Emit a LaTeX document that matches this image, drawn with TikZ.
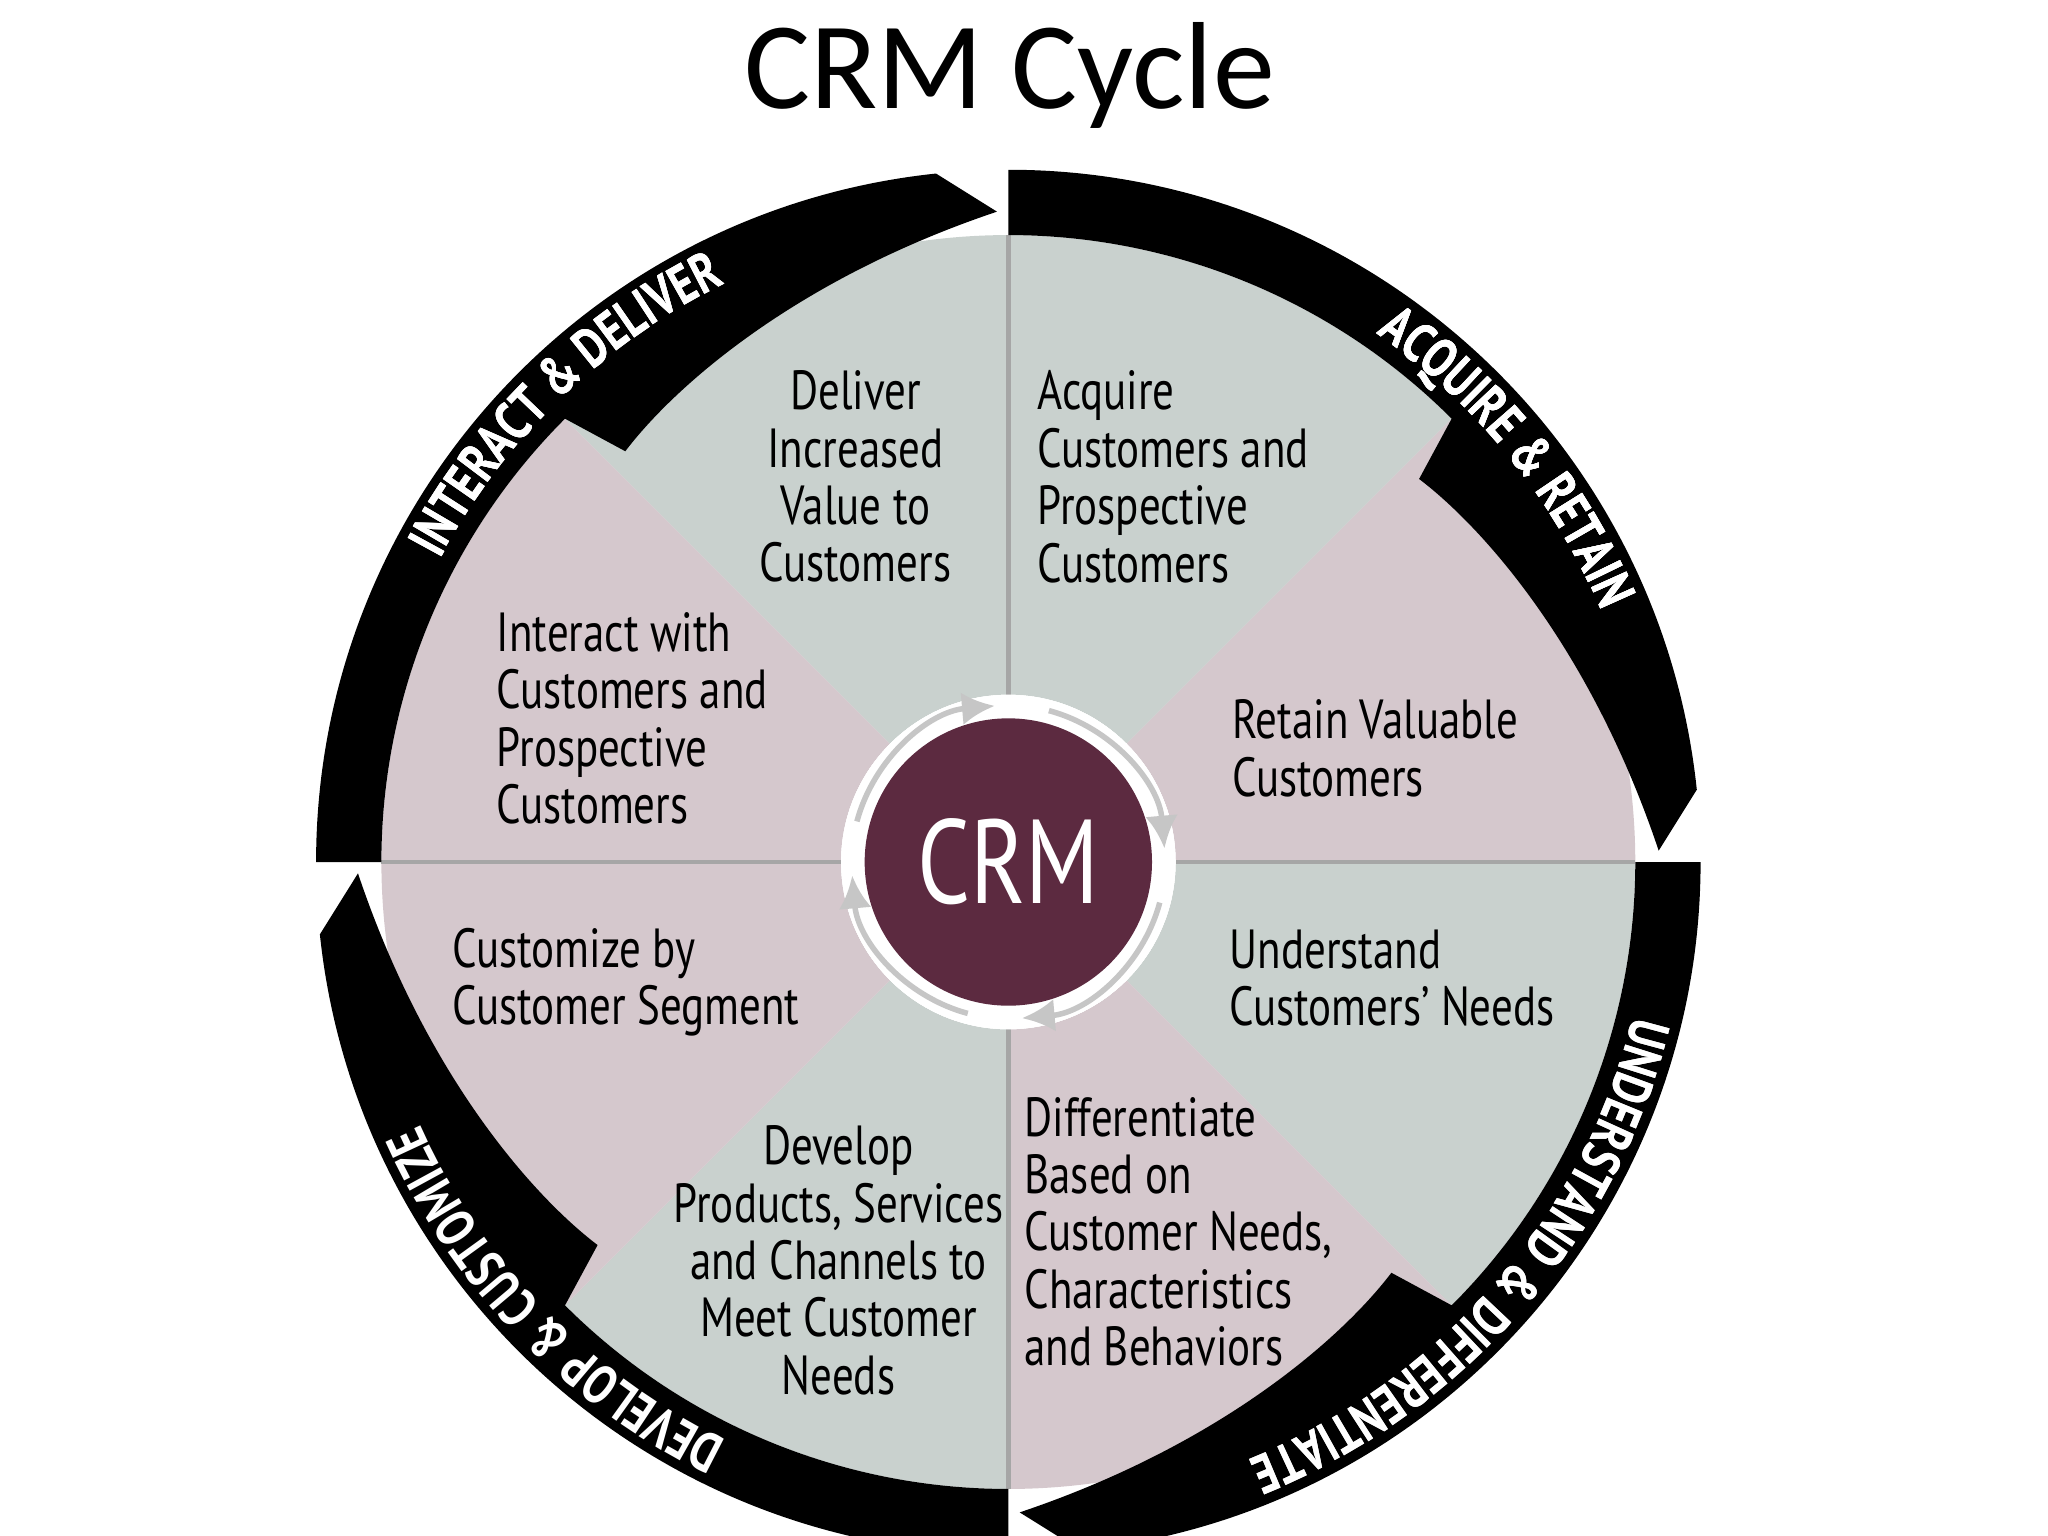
\documentclass[tikz,border=0pt]{standalone}
\usepackage{fontspec}
\setmainfont{PT Sans}[FakeStretch=0.78]
\newfontfamily\titlefont{Carlito}
\usetikzlibrary{arrows.meta,decorations.text,positioning}
\definecolor{sage}{HTML}{C9D1CE}
\definecolor{mauve}{HTML}{D5C8CD}
\definecolor{crmred}{HTML}{5C2A40}
\newcommand\crmarrow[1]{%
  \fill[black] (#1:4.8) -- (#1:5.3) arc[start angle=#1, end angle=#1-84, radius=5.3]
    -- (#1-89:4.98) .. controls (#1-70:4.75) and (#1-55:4.45) .. (#1-47:4.3)
    -- (#1-45:4.8) arc[start angle=#1-45, end angle=#1, radius=4.8] -- cycle;}
\newcommand\crmlabel[4]{%
  \path[decorate, decoration={text along path, text align=center,
    text={|\fontsize{12}{12}\selectfont\bfseries\color{white}|#4}}]
    (#1:#3) arc[start angle=#1, end angle=#2, radius=#3];}
\begin{document}
\begin{tikzpicture}[sector/.style={font=\fontsize{12}{12.5}\selectfont, align=left},
    csector/.style={sector, align=center}]
\useasboundingbox (0,0) rectangle (15.68,11.76);
\node[font=\titlefont\fontsize{27}{27}\selectfont] (title) at (7.73,11.18) {CRM Cycle};
\begin{scope}[shift={(7.72,5.16)}]
  \coordinate (c) at (0,0);
  % sectors
  \foreach \a/\col in {45/sage,0/mauve,-45/sage,-90/mauve,-135/sage,180/mauve,135/mauve,90/sage}
    \fill[\col] (c) -- (\a:4.8) arc[start angle=\a, end angle=\a+45, radius=4.8] -- cycle;
  \foreach \a in {0,90,180,270}
    \draw[gray!70, line width=1pt] (c) -- (\a:4.8);
  % outer arrows
  \foreach \a in {90,180,0,270} \crmarrow{\a}
  \crmlabel{160}{108}{4.93}{INTERACT {\&} DELIVER}
  \crmlabel{58}{20}{4.93}{ACQUIRE {\&} RETAIN}
  \crmlabel{-4}{-78}{4.93}{UNDERSTAND {\&} DIFFERENTIATE}
  \crmlabel{250}{198}{4.93}{DEVELOP {\&} CUSTOMIZE}
  % centre
  \fill[white] (c) circle (1.28);
  \foreach \a in {0,90,180,270}
    \draw[gray!45, line width=1.2pt, -{Latex[length=2.5mm,width=2.5mm]}]
      (\a+75:1.2) arc[start angle=\a+75, end angle=\a+5, radius=1.2];
  \fill[crmred] (c) circle (1.1);
  \node[white, font=\fontsize{26}{26}\selectfont] (crm) at (c) {CRM};
\end{scope}
% sector texts
\node[csector] (deliver) at (6.55,8.11) {Deliver\\Increased\\Value to\\Customers};
\node[sector, anchor=west] (acquire) at (7.82,8.11) {Acquire\\Customers and\\Prospective\\Customers};
\node[sector, anchor=west] (interact) at (3.68,6.26) {Interact with\\Customers and\\Prospective\\Customers};
\node[sector, anchor=west] (retain) at (9.31,6.03) {Retain Valuable\\Customers};
\node[sector, anchor=west] (customize) at (3.34,4.24) {Customize by\\Customer Segment};
\node[sector, anchor=west] (understand) at (9.29,4.27) {Understand\\Customers' Needs};
\node[csector] (develop) at (6.42,2.11) {Develop\\Products, Services\\and Channels to\\Meet Customer\\Needs};
\node[sector, anchor=west] (differ) at (7.72,2.33) {Differentiate\\Based on\\Customer Needs,\\Characteristics\\and Behaviors};
\end{tikzpicture}
\end{document}
